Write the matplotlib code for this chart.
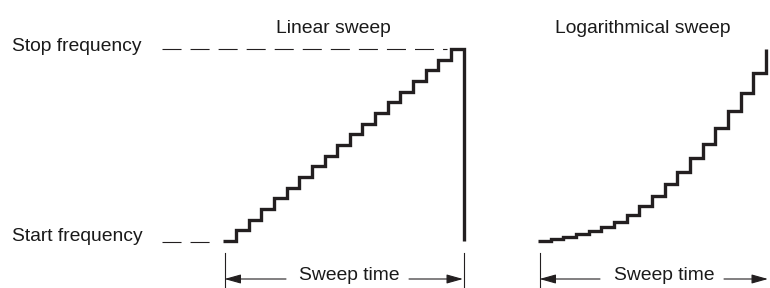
import numpy as np
import matplotlib
matplotlib.use("Agg")
import matplotlib.pyplot as plt

plt.rcParams['font.family'] = ['Liberation Sans', 'DejaVu Sans']
plt.rcParams['lines.scale_dashes'] = False

# ---- data: relative frequency (% of span) per step ----
lin_levels = [0, 5.6, 11.1, 16.7, 22.2, 27.8, 33.3, 38.9, 44.4, 50.0,
              55.6, 61.1, 66.7, 72.2, 77.8, 83.3, 88.9, 94.4, 100.0]
log_levels = [0, 1.2, 2.3, 3.6, 5.3, 7.5, 10.0, 13.4, 18.3, 23.5,
              29.6, 36.0, 43.2, 50.4, 58.7, 67.7, 77.2, 87.7, 100.0]
title_lin = "Linear sweep"
title_log = "Logarithmical sweep"
label_stop = "Stop frequency"
label_start = "Start frequency"
label_time = "Sweep time"

W, H = 770, 288
fig = plt.figure(figsize=(W / 100, H / 100), dpi=100)
ink = '#231f20'
txt = '#1a1a1a'
FS = 13.9

def px_axes(x0, x1, ytop, ybot):
    return fig.add_axes([x0 / W, (H - ybot) / H, (x1 - x0) / W, (ybot - ytop) / H])

# overlay in pixel coordinates for labels / annotations
ov = fig.add_axes([0, 0, 1, 1])
ov.set_xlim(0, W)
ov.set_ylim(H, 0)
ov.axis('off')

# linear sweep staircase (19 steps, then fly-back)
ax1 = px_axes(223.3, 463.7, 49, 241)
n1 = len(lin_levels)
x1 = list(np.arange(n1 + 1)) + [n1]
y1 = list(lin_levels) + [lin_levels[-1], lin_levels[0]]
ax1.plot(x1, y1, drawstyle='steps-post', color=ink, lw=2.4,
         solid_joinstyle='miter', solid_capstyle='butt', clip_on=False)
ax1.set_xlim(0, n1)
ax1.set_ylim(0, 100)
ax1.axis('off')

# logarithmic sweep staircase
ax2 = px_axes(538, 766, 49, 241)
n2 = len(log_levels)
x2 = np.arange(n2)
ax2.plot(x2, log_levels, drawstyle='steps-post', color=ink, lw=2.4,
         solid_joinstyle='miter', solid_capstyle='butt', clip_on=False)
ax2.set_xlim(0, n2 - 1)
ax2.set_ylim(0, 100)
ax2.axis('off')

# dashed reference lines
dash = (0, (13.7, 6.5))
ov.plot([161.7, 447], [49, 49], color=ink, lw=0.8, ls=dash)
ov.plot([161.7, 212], [241.5, 241.5], color=ink, lw=0.8, ls=dash)

# labels
ov.text(12.5, 51, label_stop, fontsize=FS, color=txt, ha='left', va='baseline')
ov.text(12.5, 241, label_start, fontsize=FS, color=txt, ha='left', va='baseline')
ov.text(276.5, 33, title_lin, fontsize=FS, color=txt, ha='left', va='baseline')
ov.text(555, 33, title_log, fontsize=FS, color=txt, ha='left', va='baseline')

# sweep time dimension markers
def dim(xl, xr, ytxt_x, line_l_end, line_r_start, ticks):
    for xt in ticks:
        ov.plot([xt, xt], [253, 288], color=ink, lw=0.8)
    ap = dict(arrowstyle='-|>,head_length=10,head_width=2.8', mutation_scale=1,
              color=ink, lw=0.8, shrinkA=0, shrinkB=0)
    ov.annotate('', xy=(xl, 279), xytext=(line_l_end, 279), arrowprops=ap)
    ov.annotate('', xy=(xr, 279), xytext=(line_r_start, 279), arrowprops=ap)
    ov.text(ytxt_x, 280, label_time, fontsize=FS, color=txt, ha='left', va='baseline')

dim(224.5, 463, 299, 286, 409, [224.5, 464])
dim(539.5, 768, 614, 600, 724, [539.5])

fig.savefig('out.png', dpi=100)
